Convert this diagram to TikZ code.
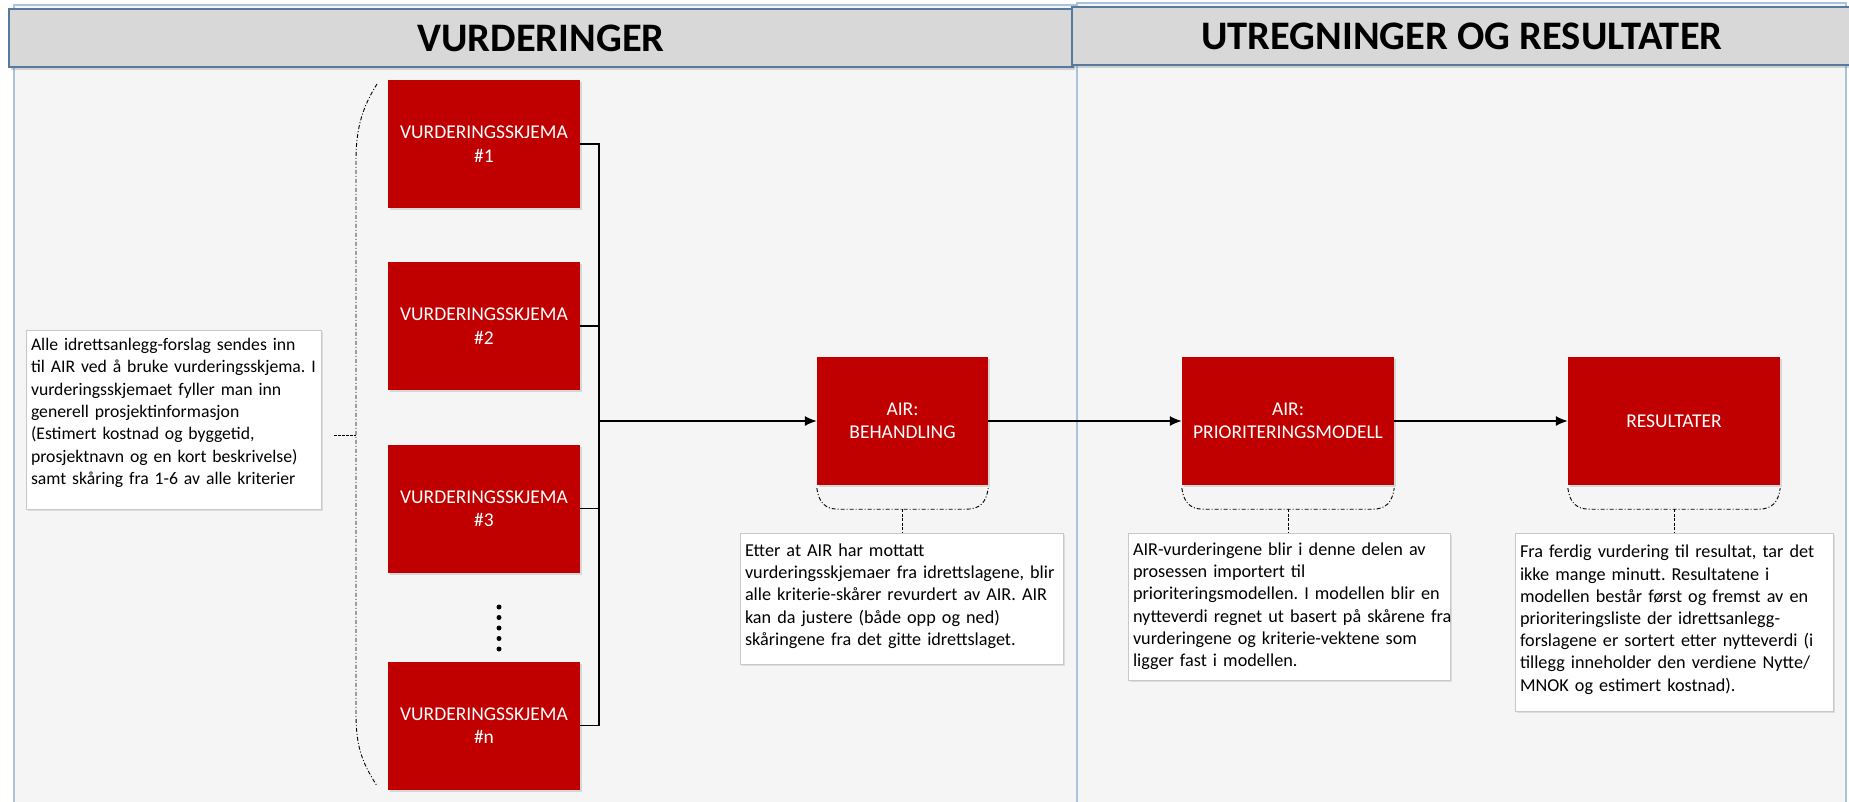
\documentclass[tikz,border=0pt]{standalone}
\usepackage{fontspec}
\setmainfont{Carlito}
\usetikzlibrary{arrows.meta,shadows,calc}
\definecolor{poolfill}{HTML}{F5F5F5}
\definecolor{poolline}{HTML}{A9C3DC}
\definecolor{headfill}{HTML}{D8D8D8}
\definecolor{headline}{HTML}{557A9E}
\definecolor{boxred}{HTML}{C00000}
\definecolor{tbline}{HTML}{C8C8C8}
\newenvironment{lines}{\begin{tabular}{@{}l@{}}}{\end{tabular}}
\frenchspacing
\begin{document}
\begin{tikzpicture}[x=1pt,y=-1pt,
 pool/.style={fill=poolfill,draw=poolline,line width=1.2pt},
 header/.style={fill=headfill,draw=headline,line width=1.3pt,drop shadow={shadow xshift=1.5pt,shadow yshift=-2.5pt,opacity=0.3}},
 title/.style={font=\fontsize{40.5}{44}\selectfont\bfseries,inner sep=0pt},
 redbox/.style={fill=boxred,draw=none,minimum width=192pt,minimum height=128pt,inner sep=0pt,align=center,text=white,font=\fontsize{19.5}{23.5}\selectfont,drop shadow={shadow xshift=1.5pt,shadow yshift=-2pt,opacity=0.25}},
 procbox/.style={redbox,minimum width=171pt},
 textbox/.style={fill=white,draw=tbline,line width=0.8pt,inner xsep=5pt,inner ysep=4pt,align=left,font=\fontsize{18.2}{22.2}\selectfont,drop shadow={shadow xshift=1.5pt,shadow yshift=-1.5pt,opacity=0.2}},
 flow/.style={line width=1.4pt,draw=black},
 dashdot/.style={line width=0.9pt,dash pattern=on 4pt off 2pt on 1pt off 2pt},
 tickline/.style={line width=1pt,dash pattern=on 3pt off 1.5pt},
 dotmark/.style={circle,fill=black,inner sep=0pt,minimum size=5pt}
]
\useasboundingbox (0,0) rectangle (1849,801);
\fill[white] (0,0) rectangle (1849,801);
% pools
\path[pool] (14,5) rectangle (1077,806);
\path[pool] (1077,3) rectangle (1846,806);
\path[header] (9,9) rectangle (1073,67);
\path[header] (1072,7) rectangle (1856,65);
\node[title] (t1) at (541,38) {VURDERINGER};
\node[title] (t2) at (1462,36) {UTREGNINGER OG RESULTATER};

% forms
\node[redbox] (b1) at (484,144) {VURDERINGSSKJEMA\\\#1};
\node[redbox] (b2) at (484,326) {VURDERINGSSKJEMA\\\#2};
\node[redbox] (b3) at (484,508.5) {VURDERINGSSKJEMA\\\#3};
\node[redbox] (bn) at (484,725.5) {VURDERINGSSKJEMA\\\#n};
\foreach \i/\yy in {1/607,2/617.5,3/628,4/638.5,5/649}
  \node[dotmark] (d\i) at (499,\yy) {};

% process boxes
\node[procbox] (beh) at (902.5,421) {AIR:\\BEHANDLING};
\node[procbox,minimum width=212pt] (prio) at (1288,421) {AIR:\\PRIORITERINGSMODELL};
\node[procbox,minimum width=212pt] (res) at (1674,421) {RESULTATER};

% bus connectors
\coordinate (bus) at (599,421);
\draw[flow] (b1.east) -| (bus);
\draw[flow] (bn.east) -| (bus);
\draw[flow] (b2.east) -- (b2.east -| bus);
\draw[flow] (b3.east) -- (b3.east -| bus);
\draw[flow,-{Latex[length=12pt,width=10pt]}] (bus) -- (beh.west);
\draw[flow,-{Latex[length=12pt,width=10pt]}] (beh.east) -- (prio.west);
\draw[flow,-{Latex[length=12pt,width=10pt]}] (prio.east) -- (res.west);

% text boxes
\node[textbox,text width=285pt,minimum height=178pt,font=\fontsize{17.7}{22.4}\selectfont] (talle) at (173.5,420) {\begin{lines}Alle idrettsanlegg-forslag sendes inn\\til AIR ved å bruke vurderingsskjema. I\\vurderingsskjemaet fyller man inn\\generell prosjektinformasjon\\(Estimert kostnad og byggetid,\\prosjektnavn og en kort beskrivelse)\\samt skåring fra 1-6 av alle kriterier\\[14pt]\end{lines}};
\node[textbox,text width=313pt,minimum height=131pt] (tbeh) at (901.5,598.5) {\begin{lines}Etter at AIR har mottatt\\vurderingsskjemaer fra idrettslagene, blir\\alle kriterie-skårer revurdert av AIR. AIR\\kan da justere (både opp og ned)\\skåringene fra det gitte idrettslaget.\\[4pt]\end{lines}};
\node[textbox,text width=312pt,minimum height=147pt] (tprio) at (1289,606.5) {\begin{lines}AIR-vurderingene blir i denne delen av\\prosessen importert til\\prioriteringsmodellen. I modellen blir en\\nytteverdi regnet ut basert på skårene fra\\vurderingene og kriterie-vektene som\\ligger fast i modellen.\end{lines}};
\node[textbox,text width=308pt,minimum height=178pt] (tres) at (1674,622) {\begin{lines}Fra ferdig vurdering til resultat, tar det\\ikke mange minutt. Resultatene i\\modellen består først og fremst av en\\prioriteringsliste der idrettsanlegg-\\forslagene er sortert etter nytteverdi (i\\tillegg inneholder den verdiene Nytte/\\MNOK og estimert kostnad).\\[4pt]\end{lines}};

% left brace
\coordinate (brtop) at (377,84);
\coordinate (brbot) at (377,786);
\coordinate (brtip) at (334,435);
\coordinate (brmid) at (356,435);
\draw[dashdot] (brtop) .. controls (364,105) and (356,125) .. (356,160) -- (356,715) .. controls (356,750) and (364,765) .. (brbot);
\draw[line width=1pt,dash pattern=on 3pt off 1pt] (brtip) -- (brmid);

% callouts under process boxes
\foreach \n in {beh,prio,res}{
  \coordinate (\n L) at ($(\n.south west)+(0,3)$);
  \coordinate (\n R) at ($(\n.south east)+(0,3)$);
  \coordinate (\n C) at ($(\n.south)+(0,24)$);
  \draw[dashdot] (\n L) .. controls ($(\n L)+(2,14)$) and ($(\n L)+(8,21)$) .. ($(\n L)+(22,21)$) -- ($(\n R)+(-22,21)$) .. controls ($(\n R)+(-8,21)$) and ($(\n R)+(-2,14)$) .. (\n R);
}
\draw[tickline] (behC) -- (behC |- tbeh.north);
\draw[tickline] (prioC) -- (prioC |- tprio.north);
\draw[tickline] (resC) -- (resC |- tres.north);
\end{tikzpicture}
\end{document}
